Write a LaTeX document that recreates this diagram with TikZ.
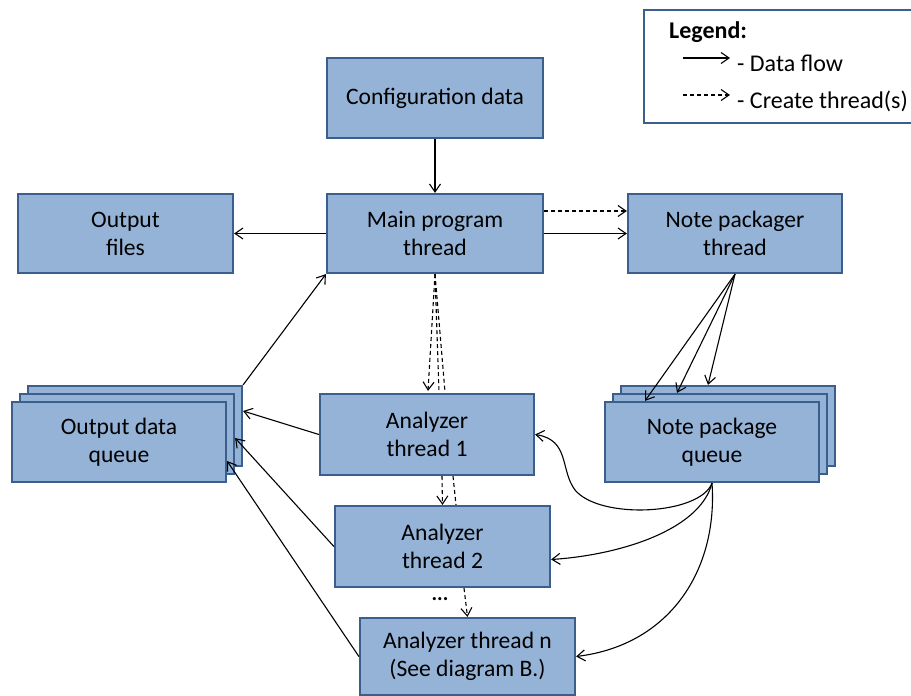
\documentclass[tikz,border=0pt]{standalone}
\usepackage{fontspec}
\setmainfont{Carlito}
\usetikzlibrary{arrows.meta}
\definecolor{boxfill}{HTML}{95B3D7}
\definecolor{boxdraw}{HTML}{3A5F8C}
\begin{document}
\begin{tikzpicture}[x=1pt,y=-1pt,
  box/.style 2 args={draw=boxdraw, fill=boxfill, line width=2.2pt, minimum width=#1pt, minimum height=#2pt,
    inner sep=0pt, align=center, font=\fontsize{23.6}{28}\selectfont},
  conn/.style={line width=1.1pt, -{Straight Barb[length=8pt,width=11pt]}},
  plain/.style={line width=1.1pt},
  dconn/.style={conn, dash pattern=on 4pt off 3pt},
  dplain/.style={plain, dash pattern=on 4pt off 3pt},
  legtext/.style={anchor=west, inner sep=0pt, font=\fontsize{24}{28}\selectfont}
]
\useasboundingbox (0,0) rectangle (911,696);

% boxes
\node[box={216}{80}] (cfg) at (435,98) {Configuration data};
\node[box={216}{79}] (main) at (435,233.5) {Main program\\thread};
\node[box={215}{79}] (outf) at (125.5,233.5) {Output\\files};
\node[box={214}{79}] (npk) at (735,233.5) {Note packager\\thread};

\node[box={214}{80}] (oq3) at (135,426) {};
\node[box={214}{80}] (oq2) at (127,434) {};
\node[box={214}{80}] (oq1) at (119,442) {Output data\\queue};

\node[box={214}{80}] (npq3) at (728,426) {};
\node[box={214}{80}] (npq2) at (720,434) {};
\node[box={214}{80}] (npq1) at (712,442) {Note package\\queue};

\node[box={214}{81}] (an1) at (427,434.5) {Analyzer\\thread 1};
\node[box={215}{81}] (an2) at (442.5,546.5) {Analyzer\\thread 2};
\node[box={215}{77}] (anN) at (467.5,656.5) {Analyzer thread n\\(See diagram B.)};

\node[inner sep=0pt, font=\fontsize{21}{24}\selectfont\bfseries] (dots) at (440,599) {...};

% data flow
\draw[conn] (cfg.south) -- (main.north);
\draw[conn] (main.west) -- (outf.east);
\draw[conn] (main.east) -- (npk.west);
\draw[dconn] ([yshift=22.5pt]main.east) -- ([yshift=22.5pt]npk.west);

\draw[conn] (npk.south) -- ([xshift=-67pt]npq1.north);
\draw[conn] (npk.south) -- ([xshift=-43pt]npq2.north);
\draw[conn] (npk.south) -- ([xshift=-20pt]npq3.north);

\draw[conn] (oq3.north east) -- (main.south west);
\draw[conn] (an1.west) -- ([yshift=15pt]oq3.east);
\draw[conn] (an2.west) -- ([yshift=-4pt]oq2.east);
\draw[conn] (anN.west) -- ([yshift=-19pt]oq1.east);

\draw[conn] (npq1.south) .. controls (700,515) and (600,520) .. (575,490)
  .. controls (560,470) and (570,440) .. (an1.east);
\draw[conn] (npq1.south) .. controls (700,530) and (620,555) .. ([yshift=-13pt]an2.east);
\draw[conn] (npq1.south) .. controls (718,570) and (670,645) .. (anN.east);

% create threads
\draw[dconn] (main.south) -- ([xshift=1pt,yshift=2pt]an1.north);
\draw[dplain] (main.south) -- ([xshift=12pt,yshift=1pt]an1.north);
\draw[dplain] (main.south) -- ([xshift=18pt,yshift=1pt]an1.north);
\draw[dconn] ([xshift=15pt]an1.south) -- (an2.north);
\draw[dplain] ([xshift=26pt]an1.south) -- ([xshift=13.5pt]an2.north);
\draw[dconn] ([xshift=21.5pt]an2.south) -- (anN.north);

% legend
\draw[draw=boxdraw, line width=2.2pt] (915,10) -- (644,10) -- (644,123) -- (915,123);
\node[legtext, font=\fontsize{24}{28}\selectfont\bfseries] (legt) at (669,32) {Legend:};
\coordinate (l1a) at (683,58);
\coordinate (l1b) at (730,58);
\coordinate (l2a) at (683,95);
\coordinate (l2b) at (730,95);
\draw[conn] (l1a) -- (l1b);
\draw[dconn] (l2a) -- (l2b);
\node[legtext] (lt1) at (737,63) {- Data flow};
\node[legtext] (lt2) at (737,101) {- Create thread(s)};
\end{tikzpicture}
\end{document}
